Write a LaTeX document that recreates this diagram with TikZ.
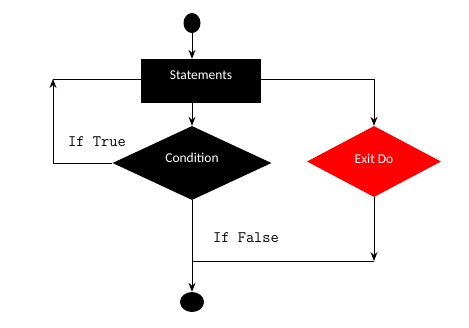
\documentclass[tikz,border=0pt]{standalone}
\usepackage{fontspec}
\setmainfont{Carlito}
\usetikzlibrary{
  arrows.meta,
  shapes.geometric
}
\definecolor{ExitRed}{HTML}{FF0000}

\begin{document}
\begin{tikzpicture}[
  x=1pt,
  y=-1pt,
  >={Stealth[length=9pt,width=7pt,inset=3pt]},
  terminal/.style={ellipse,fill=black,inner sep=0pt},
  process/.style={
    rectangle,
    fill=black,
    text=white,
    inner sep=0pt,
    minimum width=120pt,
    minimum height=44pt,
    text height=10pt,
    text depth=13.2pt,
    font=\fontsize{13.5}{16}\selectfont
  },
  decision/.style={
    diamond,
    aspect=2,
    inner sep=0pt,
    text=white,
    text height=10pt,
    font=\fontsize{13.5}{16}\selectfont
  },
  flow/.style={->,draw=black,line width=1pt},
  link/.style={draw=black,line width=1pt},
  guard/.style={font=\ttfamily\fontsize{16}{18}\selectfont}
]
\useasboundingbox (0,0) rectangle (469,327);

\node[terminal,minimum width=17pt,minimum height=20pt] (start) at (192,23) {};
\node[process] (statements) at (201,81) {Statements};
\node[decision,fill=black,minimum width=159pt,minimum height=74pt,
  text depth=10.6pt] (condition) at (192,163) {Condition};
\node[decision,fill=ExitRed,minimum width=134pt,minimum height=71pt,
  text depth=7pt] (exitdo) at (374,161.5) {Exit Do};
\node[terminal,minimum width=24pt,minimum height=20pt] (final) at (192,302) {};

\node[guard] (iftrue) at (97,142) {If True};
\node[guard] (iffalse) at (246,238) {If False};

\coordinate (loop) at (53,79);
\coordinate (join) at (374,261);

\draw[flow] (start) -- (start |- statements.north);
\draw[flow] (condition.north |- statements.south) -- (condition.north);
\draw[flow] (statements.east |- loop) -| (exitdo.north);
\draw[flow] (condition.west) -| (loop);
\draw[link] (loop) -- (loop -| statements.west);
\draw[flow] (condition.south) -- (final.north);
\draw[flow] (exitdo.south) -- (join);
\draw[link] (join) -- (join -| condition.south);
\end{tikzpicture}
\end{document}
